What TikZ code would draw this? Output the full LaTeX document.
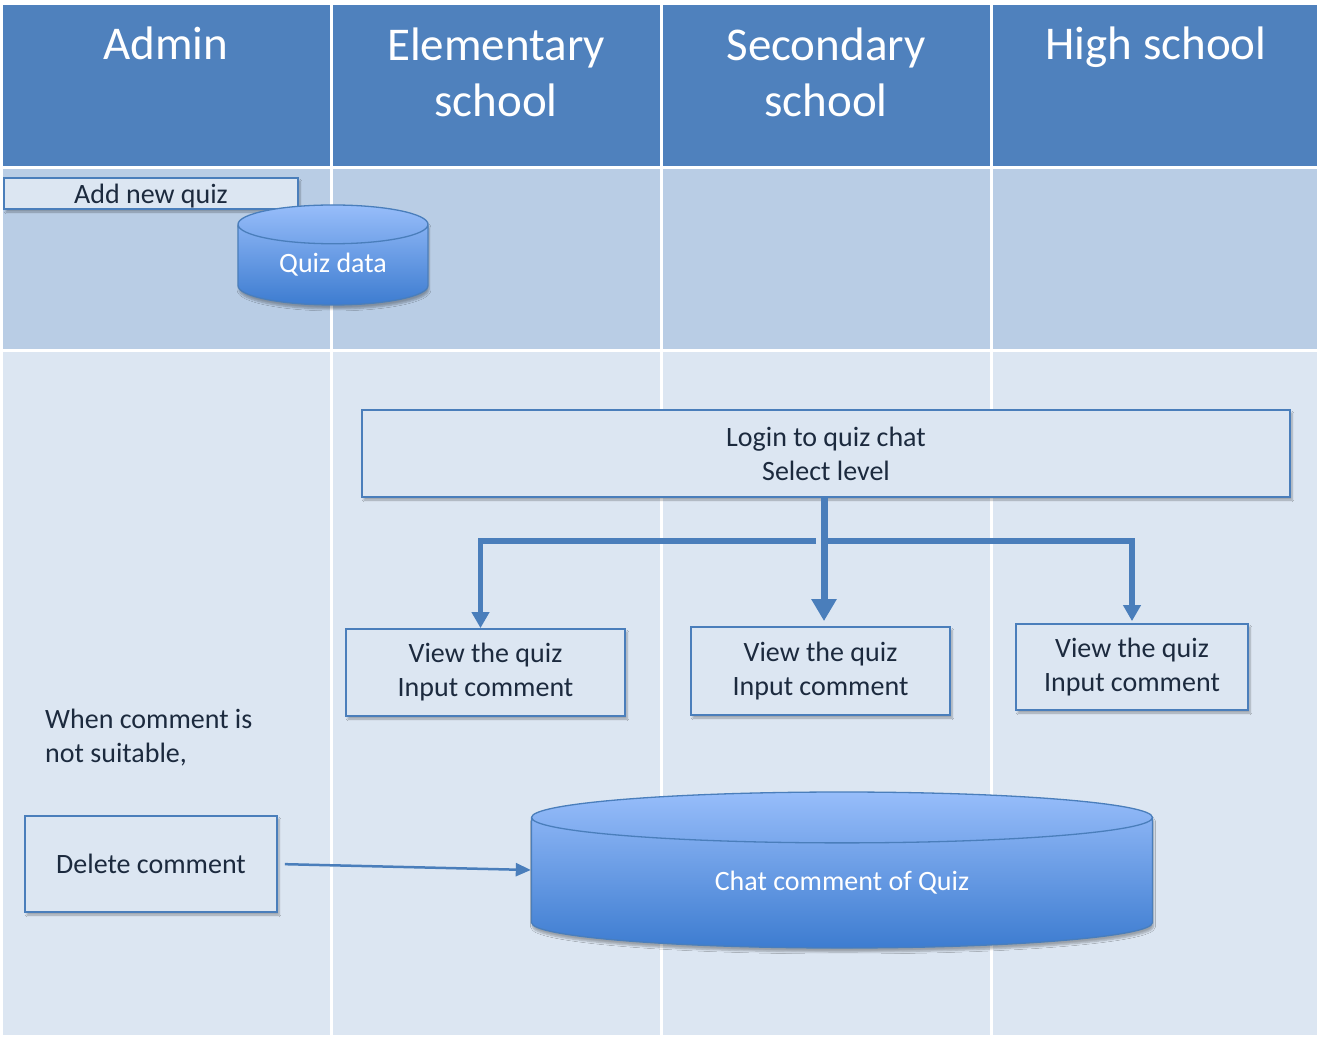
\documentclass[tikz,border=0pt]{standalone}
\usepackage{fontspec}
\setmainfont{Carlito}
\usetikzlibrary{arrows.meta,positioning,shapes.geometric,shadows.blur}
\definecolor{laneHead}{HTML}{4F81BD}
\definecolor{laneTop}{HTML}{B9CDE5}
\definecolor{laneBody}{HTML}{DCE6F2}
\definecolor{boxBd}{HTML}{4A7EBB}
\definecolor{boxText}{HTML}{1C2A3E}
\definecolor{cylTop}{HTML}{97BDFA}
\definecolor{cylBot}{HTML}{3D7CD0}
\tikzset{
  box/.style={
    rectangle, draw=boxBd, line width=1.8pt, fill=laneBody,
    text=boxText, align=center, inner sep=0pt,
    font=\fontsize{28}{34}\selectfont,
    blur shadow={shadow xshift=2pt, shadow yshift=-3pt, shadow opacity=30, shadow blur steps=6}
  },
  store/.style={
    cylinder, shape border rotate=90, draw=boxBd, line width=1.3pt,
    top color=cylTop, bottom color=cylBot, text=white, inner sep=0pt,
    font=\fontsize{28}{34}\selectfont,
    blur shadow={shadow xshift=1pt, shadow yshift=-4pt, shadow opacity=30, shadow blur steps=6}
  },
  lanetitle/.style={text=white, align=center, font=\fontsize{47}{56}\selectfont},
  note/.style={text=boxText, align=left, font=\fontsize{28}{34}\selectfont, inner sep=0pt},
  flow/.style={-{Triangle[length=22pt,width=24pt]}, line width=7pt, draw=boxBd},
  sideflow/.style={-{Triangle[length=16pt,width=17pt]}, line width=5.5pt, draw=boxBd},
  thinflow/.style={-{Triangle[length=15pt,width=13pt]}, line width=2.5pt, draw=boxBd}
}
\begin{document}
\begin{tikzpicture}[x=1pt, y=-1pt]
  \useasboundingbox (0,0) rectangle (1317,1037);
  \fill[white] (0,0) rectangle (1317,1037);
  % --- swimlanes
  \foreach \xa/\xb in {3/330, 333/660, 663/990, 993/1317} {
    \fill[laneHead] (\xa,5)   rectangle (\xb,166);
    \fill[laneTop]  (\xa,169) rectangle (\xb,349);
    \fill[laneBody] (\xa,352) rectangle (\xb,1035);
  }
  \node[lanetitle, anchor=base] (hAdmin) at (166,59)  {Admin};
  \node[lanetitle] (hElem)  at (496,72)  {Elementary\\school};
  \node[lanetitle] (hSec)   at (826,72)  {Secondary\\school};
  \node[lanetitle, anchor=base] (hHigh)  at (1156,59) {High school};

  % --- admin row
  \node[box, minimum width=294pt, minimum height=31pt, text depth=0pt] (addquiz) at (151,193.5) {Add new quiz};
  \node[store, minimum width=190pt, minimum height=100pt, aspect=0.36] (quizdata) at (333,265) {Quiz data};

  % --- login and levels
  \node[box, minimum width=928pt, minimum height=87pt] (login) at (826,453.5) {Login to quiz chat\\Select level};
  \node[box, minimum width=279pt, minimum height=87pt] (view1) at (485.5,672.5) {View the quiz\\Input comment};
  \node[box, minimum width=259pt, minimum height=88pt] (view2) at (820.5,671)   {View the quiz\\Input comment};
  \node[box, minimum width=232pt, minimum height=86pt] (view3) at (1132,667)    {View the quiz\\Input comment};

  % --- comment handling
  \node[note, anchor=west] (hint) at (45,738) {When comment is\\not suitable,};
  \node[box, minimum width=252pt, minimum height=96pt] (delete) at (151,864) {Delete comment};
  \node[store, minimum width=621pt, minimum height=156pt, aspect=0.2, anchor=shape center] (chat) at (842,870) {Chat comment of Quiz};

  % --- arrows
  \draw[flow, shorten >=5pt] ([xshift=-2pt]login.south) -- ([xshift=-2pt]login.south |- view2.north);
  \draw[sideflow] ([yshift=-43pt,xshift=-10pt]login.south) -| ([xshift=-5pt]view1.north);
  \draw[sideflow] ([yshift=-43pt,xshift=-2pt]login.south) -| ([yshift=2pt]view3.north);
  \draw[thinflow, shorten <=7pt] (delete.east) -- (chat.shape center -| chat.west);
\end{tikzpicture}
\end{document}
